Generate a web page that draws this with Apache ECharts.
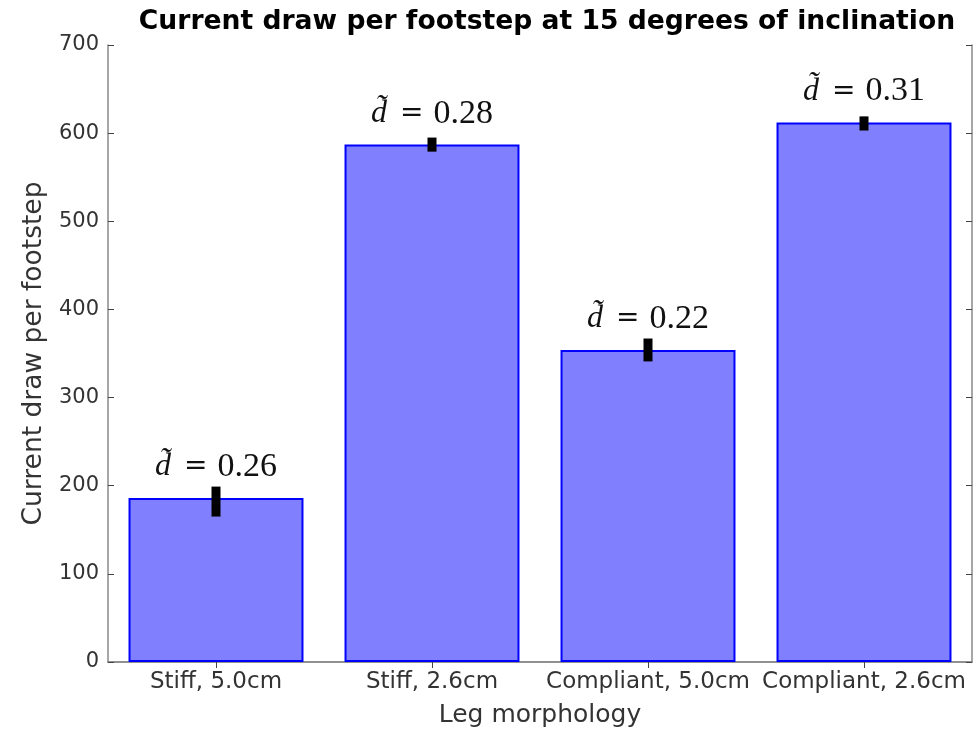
<!DOCTYPE html>
<html><head><meta charset="utf-8">
<script src="https://cdn.jsdelivr.net/npm/echarts@6/dist/echarts.min.js"></script>
<style>html,body{margin:0;padding:0;background:#fff}#c{width:980px;height:733px}</style>
</head><body><div id="c"></div>
<script>
const categories = ['Stiff, 5.0cm', 'Stiff, 2.6cm', 'Compliant, 5.0cm', 'Compliant, 2.6cm'];
const values = [186, 587, 354, 612];
const errLow = [165, 579, 341, 603];
const errHigh = [199, 595, 367, 619];
const dLabels = ['0.26', '0.28', '0.22', '0.31'];
const yTicks = [0, 100, 200, 300, 400, 500, 600, 700];

const chart = echarts.init(document.getElementById('c'));
const axisColor = '#8a8a8a';
chart.setOption({
  animation: false,
  title: {
    text: 'Current draw per footstep at 15 degrees of inclination',
    left: 542, top: 4, textAlign: 'center',
    textStyle: {fontFamily: 'DejaVu Sans', fontWeight: 'bold', fontSize: 26.6, color: '#000'}
  },
  grid: {left: 108, right: 8, top: 45, bottom: 70},
  xAxis: [{
    type: 'category', data: categories, position: 'bottom',
    axisLine: {lineStyle: {color: axisColor, width: 1.5}},
    axisTick: {show: false},
    axisLabel: {fontFamily: 'DejaVu Sans', fontSize: 23, color: '#333', margin: 9, interval: 0},
    name: 'Leg morphology', nameLocation: 'middle', nameGap: 41,
    nameTextStyle: {fontFamily: 'DejaVu Sans', fontSize: 25, color: '#333'}
  }, {
    type: 'category', data: categories, position: 'top',
    axisLine: {lineStyle: {color: axisColor, width: 1.5}},
    axisTick: {show: true, inside: true, alignWithLabel: true, length: 6, lineStyle: {color: '#444', width: 1}},
    axisLabel: {show: false}
  }],
  yAxis: [{
    type: 'value', min: 0, max: 700, interval: 100, position: 'left',
    axisLine: {show: true, lineStyle: {color: axisColor, width: 1.5}},
    axisTick: {show: true, inside: true, length: 6, lineStyle: {color: '#444', width: 1}},
    splitLine: {show: false},
    axisLabel: {fontFamily: 'DejaVu Sans', fontSize: 21, color: '#333', margin: 9,
      formatter: v => yTicks.includes(v) ? String(v) : ''},
    name: 'Current draw per footstep', nameLocation: 'middle', nameGap: 58, nameRotate: 90,
    nameTextStyle: {fontFamily: 'DejaVu Sans', fontSize: 26.5, color: '#333'}
  }, {
    type: 'value', min: 0, max: 700, interval: 100, position: 'right',
    axisLine: {show: true, lineStyle: {color: axisColor, width: 1.5}},
    axisTick: {show: true, inside: true, length: 6, lineStyle: {color: '#444', width: 1}},
    splitLine: {show: false},
    axisLabel: {show: false}
  }],
  series: [{
    type: 'bar', data: values, barCategoryGap: '19%',
    itemStyle: {color: '#8080ff', borderColor: '#0000ff', borderWidth: 2},
    label: {
      show: true, position: 'top', distance: 14,
      formatter: p => '{d|d\u0303}{e|=}{n|' + dLabels[p.dataIndex] + '}',
      rich: {
        d: {fontFamily: 'Liberation Serif', fontStyle: 'italic', fontSize: 32, color: '#111'},
        e: {fontFamily: 'DejaVu Sans', fontSize: 28, color: '#111', padding: [0, 10, 0, 13]},
        n: {fontFamily: 'Liberation Serif', fontSize: 34, color: '#111'}
      }
    },
    z: 2
  }, {
    type: 'custom',
    data: errLow.map((l, i) => [i, l, errHigh[i]]),
    renderItem: (params, api) => {
      const lo = api.coord([api.value(0), api.value(1)]);
      const hi = api.coord([api.value(0), api.value(2)]);
      return {type: 'rect', shape: {x: lo[0] - 4.5, y: hi[1], width: 9, height: lo[1] - hi[1]},
        style: {fill: '#000'}};
    },
    z: 5
  }]
});
</script></body></html>
